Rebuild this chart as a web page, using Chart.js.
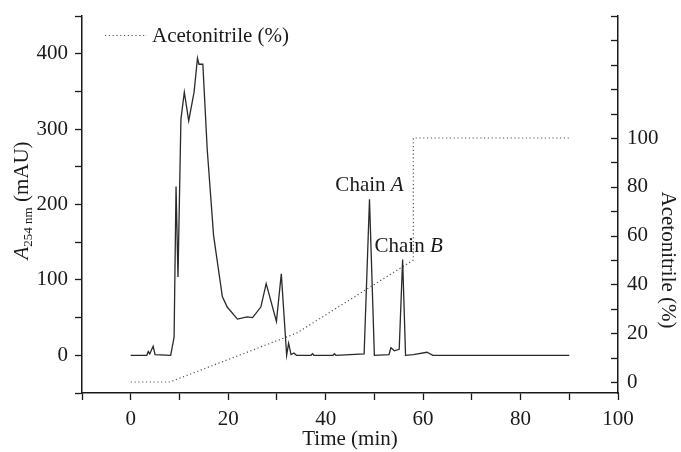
<!DOCTYPE html>
<html>
<head>
<meta charset="utf-8">
<script src="https://cdn.jsdelivr.net/npm/chart.js@4.4.1/dist/chart.umd.min.js"></script>
<style>
    html, body { margin: 0; padding: 0; background: #fff; }
</style>
</head>
<body>
<canvas id="myChart" width="681" height="452"></canvas>
<script>
// absorbance trace at 254 nm
const timeMin = [0, 3.3, 3.6, 3.9, 4.6, 5.0, 8.2, 8.9, 9.3, 9.7, 10.3, 11.0, 11.9, 13.0, 13.7, 14.0, 14.8, 15.7, 17.0,
    18.8, 19.8, 21.9, 23.9, 25.0, 26.7, 27.8, 29.9, 30.9, 32.0, 32.4, 32.9, 33.5, 34.0, 37.0, 37.3, 37.6, 41.5, 41.8,
    42.1, 47.9, 49.0, 50.0, 53.0, 53.4, 54.1, 55.1, 55.8, 56.4, 58.0, 60.8, 62.0, 90.0];
const absorbance = [0, 0, 5, 2, 12, 1, 0, 24, 224, 104, 313, 349, 311, 349, 394, 386, 386, 273, 159,
    78, 64, 48, 51, 50, 64, 95, 45, 108, 0, 16, 1, 3, 0, 0, 2, 0, 0, 2,
    0, 2, 207, 0, 1, 10, 6, 8, 127, 0, 1, 4, 0, 0];

// acetonitrile gradient
const gradTime = [0, 8, 34, 58, 58, 90];
const gradAcn = [0, 0, 20, 50, 100, 100];

// axes
const xTicks = [-10, 0, 10, 20, 30, 40, 50, 60, 70, 80, 90, 100];
const xLabels = [0, 20, 40, 60, 80, 100];
const leftTicks = [-50, 0, 50, 100, 150, 200, 250, 300, 350, 400, 450];
const leftLabels = [0, 100, 200, 300, 400];
const rightTicks = [0, 10, 20, 30, 40, 50, 60, 70, 80, 90, 100, 110, 120, 130, 140, 150];
const rightLabels = [0, 20, 40, 60, 80, 100];

// peak labels
const peakNames = ['A', 'B'];
const peakTimes = [49.0, 55.8];
const peakHeights = [207, 127];

const serif = "'Liberation Serif', 'Times New Roman', serif";
const ink = '#1a1a1a';

const extras = {
    id: 'extras',
    afterDraw(chart) {
        const c = chart.ctx;
        const area = chart.chartArea;
        const xs = chart.scales.x;
        const yA = chart.scales.yA;
        const yB = chart.scales.yB;
        c.save();
        c.fillStyle = ink;
        c.textBaseline = 'alphabetic';

        // inward ticks on the right axis
        c.strokeStyle = ink;
        c.lineWidth = 1.3;
        rightTicks.forEach(v => {
            const py = Math.round(yB.getPixelForValue(v)) + 0.5;
            c.beginPath();
            c.moveTo(area.right - 7, py);
            c.lineTo(area.right, py);
            c.stroke();
        });

        // legend
        const ds = chart.data.datasets[1];
        c.strokeStyle = ds.borderColor;
        c.lineWidth = ds.borderWidth;
        c.setLineDash(ds.borderDash);
        c.beginPath();
        c.moveTo(area.left + 23, 35.5);
        c.lineTo(area.left + 65, 35.5);
        c.stroke();
        c.setLineDash([]);
        c.font = '21px ' + serif;
        c.textAlign = 'left';
        c.fillText(ds.label, area.left + 70, 42);

        // peak annotations
        const offs = [0, 6];
        peakNames.forEach((n, i) => {
            const px = xs.getPixelForValue(peakTimes[i]) + offs[i];
            const py = yA.getPixelForValue(peakHeights[i]) - 8;
            c.font = '21px ' + serif;
            const w1 = c.measureText('Chain ').width;
            c.font = 'italic 21px ' + serif;
            const w2 = c.measureText(n).width;
            let x0 = px - (w1 + w2) / 2;
            c.font = '21px ' + serif;
            c.fillText('Chain ', x0, py);
            c.font = 'italic 21px ' + serif;
            c.fillText(n, x0 + w1, py);
        });

        // left axis title: A254 nm (mAU)
        c.save();
        c.translate(28, (area.top + area.bottom) / 2 - 4);
        c.rotate(-Math.PI / 2);
        const parts = [
            { t: 'A', f: 'italic 21px ' + serif, dy: 0 },
            { t: '254 nm', f: '13px ' + serif, dy: 4 },
            { t: ' (mAU)', f: '21px ' + serif, dy: 0 }
        ];
        let total = 0;
        parts.forEach(p => { c.font = p.f; p.w = c.measureText(p.t).width; total += p.w; });
        let cx = -total / 2;
        parts.forEach(p => {
            c.font = p.f;
            c.fillText(p.t, cx, p.dy);
            cx += p.w;
        });
        c.restore();

        // right axis title
        c.save();
        c.translate(662, 260);
        c.rotate(Math.PI / 2);
        c.font = '21px ' + serif;
        c.textAlign = 'center';
        c.fillText('Acetonitrile (%)', 0, 0);
        c.restore();

        c.restore();
    }
};

const tickFont = { family: serif, size: 21 };

const ctx = document.getElementById('myChart').getContext('2d');
const myChart = new Chart(ctx, {
    type: 'line',
    data: {
        datasets: [{
            label: 'A254 nm (mAU)',
            data: timeMin.map((t, i) => ({ x: t, y: absorbance[i] })),
            yAxisID: 'yA',
            borderColor: '#2a2a2a',
            borderWidth: 1.3,
            pointRadius: 0,
            tension: 0,
            fill: false
        }, {
            label: 'Acetonitrile (%)',
            data: gradTime.map((t, i) => ({ x: t, y: gradAcn[i] })),
            yAxisID: 'yB',
            borderColor: '#555',
            borderWidth: 1.2,
            borderDash: [1.2, 2.6],
            pointRadius: 0,
            tension: 0,
            fill: false
        }]
    },
    options: {
        responsive: false,
        animation: false,
        layout: { padding: { top: 16, left: 0, right: 0, bottom: 0 } },
        plugins: {
            legend: { display: false },
            tooltip: { enabled: false }
        },
        scales: {
            x: {
                type: 'linear',
                min: -10,
                max: 100,
                afterBuildTicks: s => { s.ticks = xTicks.map(v => ({ value: v })); },
                afterFit: s => { s.height = 59; s.paddingLeft = 0; s.paddingRight = 0; },
                ticks: {
                    autoSkip: false,
                    maxRotation: 0,
                    padding: 7,
                    color: ink,
                    font: tickFont,
                    callback: v => xLabels.includes(v) ? String(v) : ''
                },
                grid: { drawOnChartArea: false, tickLength: 7, color: ink, tickWidth: 1.3 },
                border: { color: ink, width: 1.5 },
                title: { display: true, text: 'Time (min)', color: ink, font: tickFont, padding: 0 }
            },
            yA: {
                type: 'linear',
                position: 'left',
                min: -50,
                max: 450,
                afterBuildTicks: s => { s.ticks = leftTicks.map(v => ({ value: v })); },
                afterFit: s => { s.width = 82; s.paddingTop = 0; s.paddingBottom = 0; },
                ticks: {
                    autoSkip: false,
                    padding: 7,
                    color: ink,
                    font: tickFont,
                    callback: v => leftLabels.includes(v) ? String(v) : ''
                },
                grid: { drawOnChartArea: false, tickLength: 7, color: ink, tickWidth: 1.3 },
                border: { color: ink, width: 1.5 }
            },
            yB: {
                type: 'linear',
                position: 'right',
                min: -4.5,
                max: 150,
                afterBuildTicks: s => { s.ticks = rightTicks.map(v => ({ value: v })); },
                afterFit: s => { s.width = 63; s.paddingTop = 0; s.paddingBottom = 0; },
                ticks: {
                    autoSkip: false,
                    padding: 9,
                    color: ink,
                    font: tickFont,
                    callback: v => rightLabels.includes(v) ? String(v) : ''
                },
                grid: { drawOnChartArea: false, drawTicks: false },
                border: { color: ink, width: 1.5 }
            }
        }
    },
    plugins: [extras]
});
</script>
</body>
</html>
